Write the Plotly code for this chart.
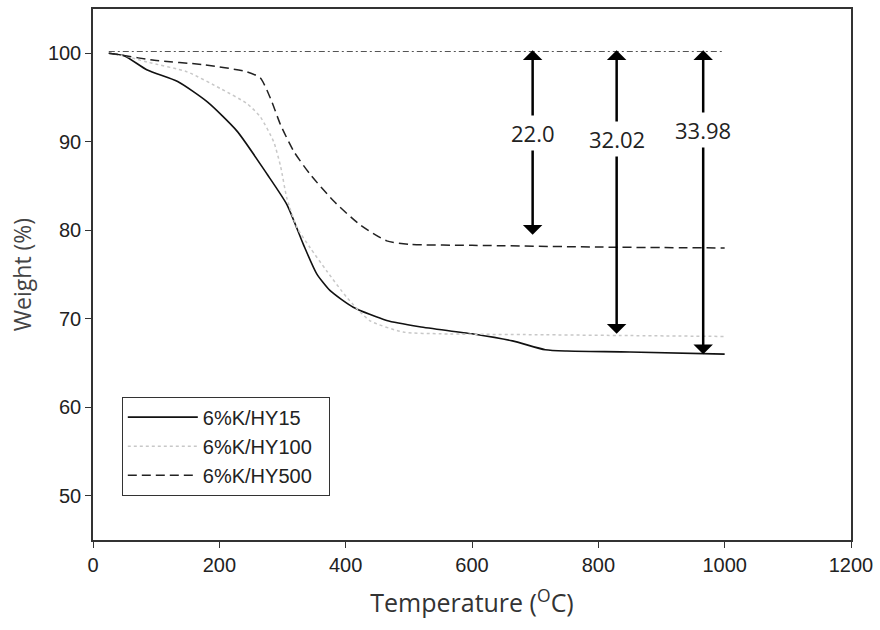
import plotly.graph_objects as go

# ---- data ----
t_hy15 = [25, 50, 86, 134, 181, 228, 276, 307, 333, 354, 375, 412, 465, 517, 600, 664, 716, 750, 850, 1000]
w_hy15 = [100, 99.7, 98.1, 96.8, 94.5, 91.2, 86.3, 82.9, 78.4, 75.1, 73.2, 71.3, 69.8, 69.1, 68.3, 67.5, 66.5, 66.35, 66.25, 66.0]

t_hy100 = [25, 50, 86, 149, 202, 244, 265, 286, 297, 307, 323, 344, 370, 402, 438, 491, 550, 700, 850, 1000]
w_hy100 = [100, 99.7, 99.0, 97.9, 96.0, 94.3, 92.8, 90.0, 87.2, 83.6, 80.3, 78.0, 75.4, 72.4, 69.8, 68.5, 68.3, 68.2, 68.1, 68.0]

t_hy500 = [25, 44, 97, 176, 244, 265, 281, 297, 318, 344, 381, 423, 465, 502, 600, 800, 1000]
w_hy500 = [100, 99.8, 99.2, 98.7, 97.9, 97.2, 94.9, 91.9, 88.9, 86.3, 83.3, 80.6, 78.8, 78.4, 78.3, 78.1, 78.0]

series_names = ["6%K/HY15", "6%K/HY100", "6%K/HY500"]

ref_t = [25, 1000]
ref_w = [100.2, 100.2]

loss_t = [696, 829, 966]
loss_bottom = [79.5, 68.3, 66.0]
loss_labels = ["22.0", "32.02", "33.98"]

x_ticks = [0, 200, 400, 600, 800, 1000, 1200]
y_ticks = [50, 60, 70, 80, 90, 100]

# ---- figure ----
fig = go.Figure()

fig.add_trace(go.Scatter(x=ref_t, y=ref_w, mode="lines", showlegend=False,
                         line=dict(color="#555555", width=1.2, dash="6px,3px,2px,3px")))
fig.add_trace(go.Scatter(x=t_hy15, y=w_hy15, mode="lines", name=series_names[0] + "\u00a0\u00a0",
                         line=dict(color="#111111", width=1.6, shape="spline", smoothing=0.6)))
fig.add_trace(go.Scatter(x=t_hy100, y=w_hy100, mode="lines", name=series_names[1] + "\u00a0\u00a0",
                         line=dict(color="#c8c8c8", width=1.5, dash="dot", shape="spline", smoothing=0.6)))
fig.add_trace(go.Scatter(x=t_hy500, y=w_hy500, mode="lines", name=series_names[2] + "\u00a0\u00a0",
                         line=dict(color="#222222", width=1.5, dash="9px,5px", shape="spline", smoothing=0.6)))

arrow_top = 100.5
label_y = [90.96, 90.36, 91.38]
annotations = []
for t, b in zip(loss_t, loss_bottom):
    annotations.append(dict(x=t, y=b, ax=t, ay=arrow_top, xref="x", yref="y", axref="x", ayref="y",
                            showarrow=True, arrowhead=1, startarrowhead=1, arrowside="end+start",
                            arrowsize=1.3, startarrowsize=1.3, arrowwidth=2.5, arrowcolor="#000000",
                            text=""))
for t, ly, lab in zip(loss_t, label_y, loss_labels):
    annotations.append(dict(x=t, y=ly, xref="x", yref="y", text=lab, showarrow=False,
                            bgcolor="white", borderpad=2,
                            font=dict(family="Open Sans", size=22, color="#222222")))

fig.update_layout(
    width=880, height=630,
    margin=dict(l=93, r=27, t=7, b=90),
    paper_bgcolor="white", plot_bgcolor="white",
    font=dict(family="Liberation Sans, Arial", size=20, color="#222222"),
    annotations=annotations,
    legend=dict(x=0.038, y=0.27, xanchor="left", yanchor="top",
                bordercolor="#333333", borderwidth=1, bgcolor="white",
                font=dict(family="Liberation Sans, Arial", size=20, color="#222222"),
                itemwidth=70, tracegroupgap=0),
    xaxis=dict(range=[0, 1200], tickvals=x_ticks, ticks="outside", ticklen=6, tickwidth=1.2,
               tickcolor="#333333", showline=True, linecolor="#333333", linewidth=1.5, mirror=True,
               showgrid=False, zeroline=False,
               tickfont=dict(family="Liberation Sans, Arial", size=20, color="#222222"),
               title=dict(text="Temperature (<sup>O</sup>C)", standoff=20,
                          font=dict(family="Open Sans", size=25, color="#333333"))),
    yaxis=dict(range=[45, 105], tickvals=y_ticks, ticks="outside", ticklen=6, tickwidth=1.2,
               tickcolor="#333333", showline=True, linecolor="#333333", linewidth=1.5, mirror=True,
               showgrid=False, zeroline=False,
               tickfont=dict(family="Liberation Sans, Arial", size=20, color="#222222"),
               title=dict(text="Weight (%)", standoff=10,
                          font=dict(family="Open Sans", size=23, color="#444444"))),
)

fig.write_html("out.html")
